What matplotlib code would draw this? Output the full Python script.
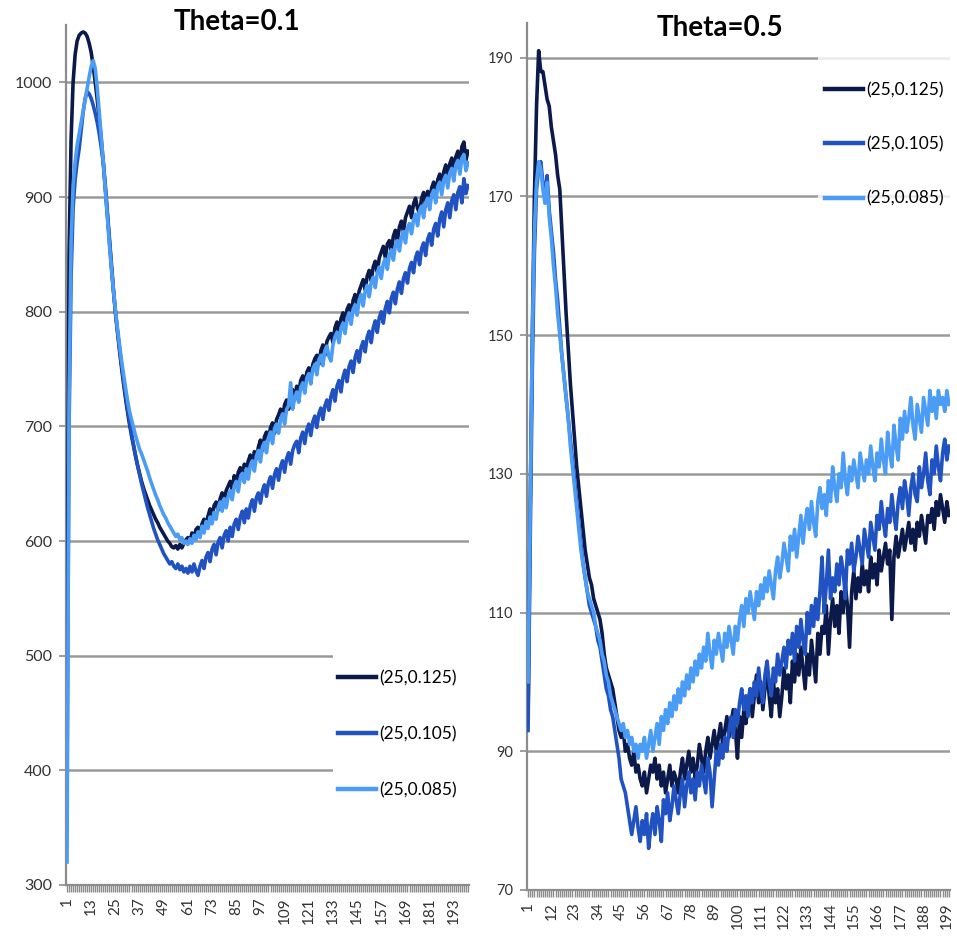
import numpy as np
import matplotlib
matplotlib.use("Agg")
import matplotlib.pyplot as plt
from matplotlib.patches import Rectangle

plt.rcParams['font.family'] = ['Lato', 'DejaVu Sans']

labels = ['(25,0.125)', '(25,0.105)', '(25,0.085)']
colors = ['#0b1a4a', '#2052c2', '#4b9cf5']

# theta = 0.1
theta1_a = [
    480, 850, 950, 1000, 1024, 1036, 1041, 1043, 1044, 1043, 1040, 1034, 1026, 1014, 1000, 985, 968, 950, 930, 908,
    885, 862, 840, 819, 800, 783, 767, 752, 738, 725, 713, 702, 692, 683, 674, 666, 659, 652, 646, 641,
    636, 631, 627, 623, 619, 616, 612, 609, 606, 603, 600, 598, 595, 594, 596, 593, 597, 594, 598, 601,
    603, 599, 607, 603, 610, 612, 606, 615, 619, 613, 622, 628, 620, 631, 634, 627, 637, 642, 635, 644,
    648, 652, 645, 657, 650, 660, 664, 656, 667, 662, 670, 675, 666, 678, 672, 682, 688, 679, 691, 695,
    688, 699, 703, 694, 706, 710, 715, 707, 719, 723, 715, 727, 732, 723, 735, 729, 740, 744, 735, 747,
    751, 743, 754, 759, 762, 754, 766, 771, 762, 774, 778, 781, 773, 786, 791, 782, 794, 799, 790, 802,
    806, 798, 810, 815, 806, 818, 823, 828, 819, 831, 836, 827, 839, 844, 835, 847, 852, 857, 847, 859,
    862, 853, 866, 871, 862, 874, 879, 870, 882, 887, 892, 882, 894, 899, 890, 886, 899, 904, 892, 905,
    896, 908, 913, 901, 915, 920, 908, 922, 928, 916, 929, 934, 921, 935, 940, 928, 944, 948, 932, 940,
]
theta1_b = [
    400, 700, 830, 890, 915, 930, 942, 958, 974, 986, 992, 990, 986, 980, 973, 965, 955, 943, 930, 910,
    888, 865, 842, 820, 800, 784, 769, 755, 741, 728, 716, 705, 694, 684, 675, 666, 658, 650, 643, 636,
    629, 623, 617, 611, 606, 601, 597, 593, 589, 586, 583, 580, 582, 578, 576, 580, 575, 578, 573, 576,
    572, 578, 573, 580, 574, 570, 578, 583, 576, 586, 590, 582, 593, 597, 588, 599, 603, 594, 605, 609,
    600, 612, 604, 615, 619, 610, 621, 626, 616, 628, 620, 631, 636, 626, 638, 642, 633, 644, 649, 639,
    651, 656, 646, 658, 663, 653, 665, 670, 660, 672, 677, 667, 679, 684, 687, 677, 690, 695, 685, 697,
    702, 692, 704, 709, 699, 711, 716, 706, 718, 723, 714, 726, 732, 722, 735, 740, 730, 743, 749, 739,
    752, 757, 747, 760, 766, 756, 769, 774, 765, 778, 783, 773, 786, 792, 782, 795, 800, 790, 803, 809,
    799, 812, 817, 807, 820, 826, 816, 829, 834, 825, 838, 843, 834, 847, 852, 841, 855, 860, 849, 863,
    868, 858, 872, 877, 866, 881, 887, 874, 889, 895, 882, 897, 902, 889, 904, 909, 895, 916, 903, 910,
]
theta1_c = [
    320, 720, 860, 910, 930, 945, 955, 965, 975, 985, 995, 1005, 1014, 1019, 1012, 995, 974, 952, 930, 906,
    882, 859, 838, 819, 802, 786, 772, 758, 746, 734, 723, 713, 706, 699, 692, 686, 680, 676, 671, 666,
    661, 655, 650, 645, 640, 636, 631, 627, 623, 620, 616, 613, 610, 607, 604, 606, 601, 603, 598, 600,
    597, 602, 598, 605, 601, 608, 603, 613, 607, 617, 611, 621, 615, 625, 619, 629, 634, 626, 637, 629,
    639, 644, 636, 648, 652, 643, 655, 659, 651, 663, 654, 666, 670, 661, 674, 679, 669, 682, 686, 677,
    690, 695, 685, 698, 702, 694, 706, 711, 702, 715, 718, 738, 715, 725, 730, 721, 734, 738, 729, 742,
    746, 737, 750, 754, 745, 758, 762, 753, 766, 770, 761, 757, 771, 778, 782, 773, 786, 790, 781, 794,
    799, 789, 802, 806, 797, 810, 815, 805, 818, 823, 813, 826, 830, 821, 834, 839, 829, 842, 846, 837,
    850, 854, 845, 858, 862, 853, 865, 870, 860, 873, 877, 868, 880, 885, 875, 888, 892, 882, 895, 899,
    889, 902, 906, 895, 909, 913, 902, 915, 919, 908, 921, 925, 914, 928, 932, 920, 934, 937, 923, 930,
]

# theta = 0.5
theta5_a = [
    95, 125, 150, 170, 183, 191, 188, 188, 186, 184, 183, 180, 178, 176, 173, 171, 165, 159, 153, 148,
    143, 139, 135, 131, 128, 125, 122, 119, 117, 115, 114, 112, 111, 110, 109, 107, 104, 102, 101, 100,
    99, 97, 95, 93, 92, 93, 90, 91, 89, 88, 90, 87, 88, 86, 85, 87, 84, 86, 88, 87,
    89, 86, 88, 85, 87, 84, 86, 88, 85, 87, 86, 84, 87, 89, 86, 88, 90, 87, 89, 86,
    88, 91, 89, 87, 90, 92, 89, 91, 93, 90, 92, 94, 91, 93, 95, 92, 94, 96, 93, 89,
    95, 92, 96, 94, 97, 99, 95, 98, 101, 97, 100, 96, 99, 102, 98, 95, 100, 97, 99, 95,
    98, 102, 99, 101, 97, 103, 100, 104, 101, 105, 102, 99, 104, 101, 106, 103, 100, 107, 104, 108,
    107, 111, 104, 109, 112, 108, 111, 107, 113, 110, 114, 111, 105, 113, 116, 112, 115, 113, 117, 114,
    116, 113, 118, 115, 117, 114, 119, 116, 118, 120, 117, 119, 109, 118, 121, 118, 120, 122, 119, 121,
    123, 120, 122, 119, 123, 121, 124, 122, 120, 124, 123, 125, 122, 126, 124, 127, 125, 123, 126, 124,
]
theta5_b = [
    93, 120, 145, 162, 171, 174, 175, 172, 170, 173, 168, 165, 162, 158, 155, 151, 147, 144, 141, 138,
    135, 132, 129, 126, 123, 120, 117, 115, 113, 111, 110, 109, 108, 106, 105, 103, 101, 99, 98, 96,
    95, 93, 91, 89, 86, 85, 84, 82, 80, 78, 80, 82, 79, 77, 80, 78, 81, 76, 79, 81,
    78, 82, 80, 77, 83, 81, 84, 80, 82, 85, 83, 81, 84, 86, 82, 85, 87, 84, 86, 83,
    87, 85, 88, 86, 84, 89, 87, 82, 86, 90, 88, 91, 89, 92, 90, 93, 95, 92, 96, 94,
    97, 99, 96, 98, 95, 99, 97, 100, 98, 102, 99, 97, 101, 103, 100, 98, 102, 100, 104, 101,
    103, 105, 102, 106, 104, 107, 103, 108, 105, 109, 106, 104, 110, 107, 111, 108, 112, 109, 113, 118,
    110, 114, 119, 112, 115, 113, 117, 114, 118, 116, 112, 119, 117, 120, 116, 118, 121, 119, 117, 122,
    120, 118, 123, 121, 119, 124, 122, 126, 123, 121, 125, 123, 127, 124, 122, 126, 128, 125, 129, 127,
    124, 128, 130, 127, 126, 131, 128, 130, 133, 129, 127, 132, 130, 134, 131, 129, 133, 135, 132, 134,
]
theta5_c = [
    100, 125, 150, 165, 172, 175, 174, 171, 169, 172, 167, 164, 160, 157, 153, 150, 147, 144, 141, 138,
    134, 131, 128, 125, 122, 119, 117, 115, 113, 112, 111, 110, 108, 107, 106, 104, 103, 101, 100, 98,
    97, 96, 95, 94, 93, 94, 92, 93, 91, 92, 90, 91, 89, 91, 90, 92, 89, 91, 93, 90,
    92, 94, 91, 95, 93, 96, 94, 97, 95, 98, 96, 99, 97, 100, 98, 101, 99, 102, 100, 103,
    101, 104, 102, 105, 103, 107, 104, 102, 106, 104, 107, 105, 103, 107, 105, 108, 106, 104, 108, 106,
    109, 111, 108, 112, 110, 113, 111, 109, 113, 111, 114, 112, 115, 113, 116, 114, 112, 116, 118, 115,
    117, 120, 118, 116, 121, 119, 122, 118, 121, 124, 120, 123, 125, 122, 126, 123, 121, 126, 128, 125,
    127, 124, 129, 126, 131, 128, 126, 130, 128, 133, 129, 127, 131, 129, 132, 130, 128, 133, 131, 129,
    132, 130, 134, 131, 129, 133, 131, 135, 132, 130, 136, 133, 131, 137, 134, 132, 138, 135, 139, 136,
    138, 141, 137, 135, 140, 138, 136, 141, 139, 137, 142, 139, 141, 138, 142, 140, 141, 139, 142, 140,
]

x = np.arange(1, 201)
grey = '#8c8c8c'


def draw_panel(ax, series, yticks, ylim, xstep, mask, mask_alpha, tsize):
    for y, c, lab in zip(series, colors, labels):
        ax.plot(x, y, color=c, lw=2.6, label=lab, solid_joinstyle='round', zorder=3)
    ax.set_xlim(0.5, 200.5)
    ax.set_ylim(*ylim)
    ax.set_yticks(yticks)
    ax.set_yticklabels([str(v) for v in yticks], fontsize=tsize, color='#333333')
    major = list(range(1, 201, xstep))
    ax.set_xticks(major)
    ax.set_xticklabels([str(v) for v in major], rotation=90, fontsize=11, color='#333333')
    ax.set_xticks(x, minor=True)
    ax.tick_params(axis='x', which='both', length=5, width=1, color=grey, pad=4)
    ax.tick_params(axis='y', length=5, width=1.2, color=grey, pad=5)
    ax.yaxis.grid(True, color='#9a9a9a', lw=1.8)
    ax.set_axisbelow(True)
    for s in ('top', 'right'):
        ax.spines[s].set_visible(False)
    for s in ('left', 'bottom'):
        ax.spines[s].set_color(grey)
        ax.spines[s].set_linewidth(1.6)
    # white area behind the legend hides the gridlines
    ax.add_patch(Rectangle((mask[0], mask[1]), mask[2], mask[3], transform=ax.transAxes,
                           facecolor='white', edgecolor='none', alpha=mask_alpha,
                           zorder=1.5, clip_on=False))


fig = plt.figure(figsize=(9.57, 9.46), dpi=100)
ax1 = fig.add_axes([0.069, 0.0645, 0.421, 0.909])
ax2 = fig.add_axes([0.5507, 0.0592, 0.442, 0.9165])

draw_panel(ax1, [theta1_a, theta1_b, theta1_c], list(range(300, 1001, 100)), (300, 1050), 12,
           (0.662, 0.087, 0.35, 0.22), 1.0, 11.5)
draw_panel(ax2, [theta5_a, theta5_b, theta5_c], list(range(70, 191, 20)), (70, 195), 11,
           (0.688, 0.78, 0.33, 0.195), 0.8, 10.5)

ax1.legend(loc='center left', bbox_to_anchor=(0.675, 0.1756), frameon=False, fontsize=12.5,
           handlelength=2.2, handletextpad=0.15, labelspacing=2.3, borderpad=0, borderaxespad=0)
ax2.legend(loc='center left', bbox_to_anchor=(0.705, 0.86), frameon=False, fontsize=12.5,
           handlelength=2.2, handletextpad=0.15, labelspacing=2.2, borderpad=0, borderaxespad=0)
for leg in (ax1.get_legend(), ax2.get_legend()):
    for h in leg.get_lines():
        h.set_linewidth(3.2)

fig.text(0.2476, 0.9767, 'Theta=0.1', ha='center', va='center', fontsize=20, fontweight='bold')
fig.text(0.7524, 0.970, 'Theta=0.5', ha='center', va='center', fontsize=20, fontweight='bold')

fig.savefig('out.png', dpi=100)
